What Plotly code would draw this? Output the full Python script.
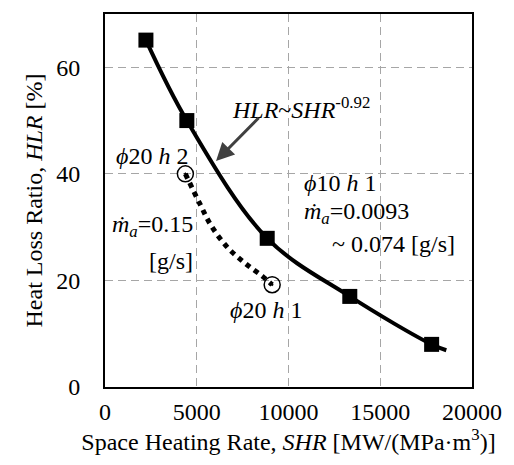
import plotly.graph_objects as go

# Data
shr_main = [2230, 4460, 8840, 13340, 17800]
hlr_main = [65.1, 50.0, 27.9, 17.0, 8.0]
# smoothed curve through the main series
shr_curve = [2230, 4460, 8840, 13340, 17800, 18600]
hlr_curve = [65.1, 50.0, 27.9, 17.0, 8.0, 6.9]

shr_phi20 = [4380, 9110]
hlr_phi20 = [40.0, 19.2]
# dotted trend curve between the two phi20 points
shr_dot = [4380, 5180, 5800, 6700, 7680, 8570, 9110]
hlr_dot = [40.0, 34.3, 30.2, 26.1, 23.1, 20.8, 19.2]

x_ticks = [0, 5000, 10000, 15000, 20000]
y_ticks = [0, 20, 40, 60]

FONT = "Liberation Serif"
FS = 24

fig = go.Figure()
fig.add_trace(go.Scatter(x=shr_curve, y=hlr_curve, mode="lines",
                         line=dict(color="black", width=4, shape="spline"),
                         showlegend=False, hoverinfo="skip"))
fig.add_trace(go.Scatter(x=shr_main, y=hlr_main, mode="markers",
                         marker=dict(symbol="square", size=15, color="black"),
                         showlegend=False))
fig.add_trace(go.Scatter(x=shr_dot, y=hlr_dot, mode="lines",
                         line=dict(color="black", width=5, dash="5px,5px", shape="spline"),
                         showlegend=False, hoverinfo="skip"))
fig.add_trace(go.Scatter(x=shr_phi20, y=hlr_phi20, mode="markers",
                         marker=dict(symbol="circle-open-dot", size=16, color="black",
                                     line=dict(width=1.5, color="black")),
                         showlegend=False))

tf = dict(family=FONT, size=FS, color="black")
ann = [
    dict(x=6800, y=52.3, text="<i>HLR</i>~<i>SHR</i><sup>-0.92</sup>", xanchor="left", yanchor="middle"),
    dict(x=480, y=43.3, text="<i>ϕ</i>20 <i>h</i> 2", xanchor="left", yanchor="middle"),
    dict(x=4930, y=30.2, text="<i>ṁ</i><sub><i>a</i></sub>=0.15", xanchor="right", yanchor="middle"),
    dict(x=4930, y=23.7, text="[g/s]", xanchor="right", yanchor="middle"),
    dict(x=6700, y=14.4, text="<i>ϕ</i>20 <i>h</i> 1", xanchor="left", yanchor="middle"),
    dict(x=10720, y=38.3, text="<i>ϕ</i>10 <i>h</i> 1", xanchor="left", yanchor="middle"),
    dict(x=10720, y=32.7, text="<i>ṁ</i><sub><i>a</i></sub>=0.0093", xanchor="left", yanchor="middle"),
    dict(x=19180, y=26.9, text="~ 0.074 [g/s]", xanchor="right", yanchor="middle"),
]
annotations = []
for a in ann:
    a.update(showarrow=False, font=tf, xref="x", yref="y")
    annotations.append(a)
annotations.append(dict(x=6050, y=42.4, ax=8460, ay=50.8, xref="x", yref="y",
                        axref="x", ayref="y", text="", showarrow=True,
                        arrowhead=2, arrowsize=1.2, arrowwidth=3, arrowcolor="#404040"))

fig.update_layout(
    width=514, height=465,
    margin=dict(l=105, r=36, t=12, b=78),
    paper_bgcolor="white", plot_bgcolor="white",
    font=dict(family=FONT, size=FS, color="black"),
    annotations=annotations,
    xaxis=dict(range=[0, 20000], tickvals=x_ticks, ticktext=[str(v) for v in x_ticks],
               showgrid=True, gridcolor="#a6a6a6", griddash="8px,5px", gridwidth=1,
               showline=True, mirror=True, linecolor="black", linewidth=2,
               zeroline=False, ticks="", tickfont=tf, ticklabelstandoff=2,
               title=dict(text="Space Heating Rate, <i>SHR</i> [MW/(MPa·m<sup>3</sup>)]",
                          font=tf, standoff=6)),
    yaxis=dict(range=[0, 70], tickvals=y_ticks, ticktext=[str(v) for v in y_ticks],
               showgrid=True, gridcolor="#a6a6a6", griddash="8px,5px", gridwidth=1,
               showline=True, mirror=True, linecolor="black", linewidth=2,
               zeroline=False, ticks="", tickfont=tf, ticklabelstandoff=18,
               title=dict(text="Heat Loss Ratio, <i>HLR</i> [%]", font=tf, standoff=7)),
)

fig.write_html("out.html")
